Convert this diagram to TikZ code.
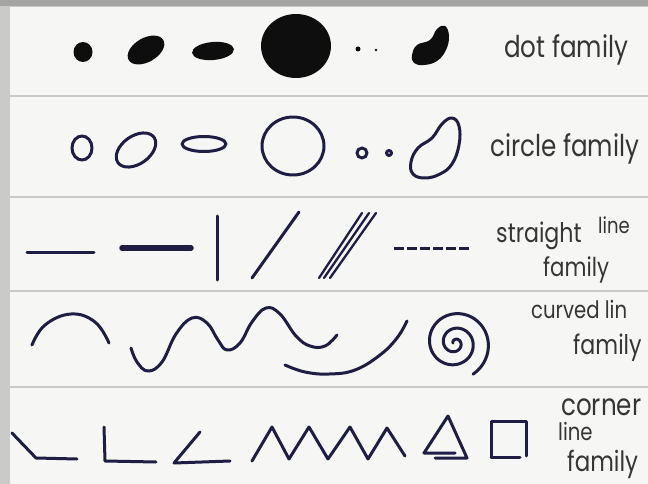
\documentclass[tikz,border=0pt]{standalone}
\usepackage{fontspec}
\newfontfamily\hand{Poppins}[FakeStretch=0.82]
\definecolor{inkc}{HTML}{1E1E44}
\definecolor{blackc}{HTML}{0E0E0E}
\definecolor{textc}{HTML}{353535}
\definecolor{paperc}{HTML}{F6F6F4}
\definecolor{framec}{HTML}{CACAC8}
\definecolor{topc}{HTML}{A4A4A2}
\begin{document}
\begin{tikzpicture}[x=1pt,y=-1pt,
  ink/.style={draw=inkc, line width=3pt, line cap=round, line join=round},
  blot/.style={fill=blackc},
  lab/.style={text=textc, anchor=base west, inner sep=0pt},
  strip/.style={fill=paperc, draw=none}]
\useasboundingbox (0,0) rectangle (648,484);
% background
\fill[framec] (0,0) rectangle (648,484);
\fill[topc] (0,0) rectangle (648,6);
\fill[strip] (10,7) rectangle (648,95);
\fill[strip] (10,97) rectangle (648,196);
\fill[strip] (10,198) rectangle (648,290);
\fill[strip] (10,292) rectangle (648,386);
\fill[strip] (10,388) rectangle (648,484);

% ---- dot family ----
\fill[blot] (83,52) ellipse [x radius=9.5, y radius=10];
\fill[blot, rotate around={30:(146,50)}] (146,50) ellipse [x radius=20, y radius=12];
\fill[blot, rotate around={5:(213,51)}] (213,51) ellipse [x radius=21, y radius=9];
\fill[blot] (296,46) ellipse [x radius=35, y radius=32];
\fill[blot] (358,49) circle [radius=2.5];
\fill[blot] (376,50) circle [radius=1.4];
\fill[blot] plot[smooth cycle, tension=0.7] coordinates {(412,55) (417,45) (430,40) (437,29) (445,26) (449,36) (446,50) (437,61) (424,65) (414,63)};
\node[lab, font=\hand\fontsize{30}{30}\selectfont] (t1) at (504,58) {dot family};

% ---- circle family ----
\draw[ink] (82,148) ellipse [x radius=10, y radius=12];
\draw[ink, rotate around={35:(136,150)}] (136,150) ellipse [x radius=22, y radius=14];
\draw[ink] (204,144) ellipse [x radius=22, y radius=7.5];
\draw[ink] (293,146) ellipse [x radius=31, y radius=29];
\draw[ink] (362,153) circle [radius=5];
\draw[ink] (389,153) circle [radius=2.5];
\draw[ink] plot[smooth cycle, tension=0.7] coordinates {(411,162) (418,148) (432,138) (442,124) (452,118) (459,126) (459,145) (452,164) (440,174) (425,178) (413,174)};
\node[lab, font=\hand\fontsize{30}{30}\selectfont] (t2) at (490,157) {circle family};

% ---- straight line family ----
\draw[ink] (27,252) -- (94,252);
\draw[ink, line width=5.5pt] (122,248) -- (191,248);
\draw[ink] (217,216) -- (217,280);
\draw[ink] (252,278) -- (299,212);
\draw[ink, line width=2.3pt] (319,278) -- (362,213);
\draw[ink, line width=2.3pt] (324,278) -- (369,213);
\draw[ink, line width=2.3pt] (330,278) -- (376,213);
\draw[ink, line cap=butt, dash pattern=on 10pt off 3pt] (394,248) -- (471,248);
\node[lab, font=\hand\fontsize{27}{27}\selectfont] (t3a) at (496,242) {straight};
\node[lab, font=\hand\fontsize{22}{22}\selectfont] (t3b) at (598,233) {line};
\node[lab, font=\hand\fontsize{26}{26}\selectfont] (t3c) at (543,276) {family};

% ---- curved line family ----
\draw[ink] plot[smooth, tension=0.7] coordinates {(32,345) (45,325) (71,314) (95,322) (109,343)};
\draw[ink] plot[smooth, tension=0.7] coordinates {(131,348) (137,362) (148,371) (162,362) (176,334) (192,318) (207,323) (218,340) (227,350) (240,343) (252,322) (266,308) (280,314) (296,336) (310,346) (325,346) (337,335)};
\draw[ink] plot[smooth, tension=0.7] coordinates {(285,365) (305,372) (329,374) (355,370) (380,355) (397,338) (407,321)};
\draw[ink] plot[domain=0:960, samples=240, smooth] ({455 + (2+34*(\x/960)^1.3)*cos(\x-900)}, {343 + (2+34*(\x/960)^1.3)*sin(\x-900)});
\node[lab, font=\hand\fontsize{24}{24}\selectfont] (t4a) at (531,318) {curved lin};
\node[lab, font=\hand\fontsize{27}{27}\selectfont] (t4b) at (573,354) {family};

% ---- corner line family ----
\draw[ink] (12,433) -- (36,458) -- (77,459);
\draw[ink] (104,427) -- (105,461) -- (156,462);
\draw[ink] (200,432) -- (174,463) -- (230,461);
\draw[ink] (252,461) -- (272,427) -- (289,459) -- (309,427) -- (328,459) -- (350,427) -- (368,459) -- (387,428) -- (405,456);
\draw[ink] (455,453) -- (424,453) -- (448,416) -- (467,458) -- (435,458);
\draw[ink] (491,457) -- (491,421) -- (526,421) -- (526,456);
\draw[ink] (491,457) -- (520,457);
\node[lab, font=\hand\fontsize{30}{30}\selectfont] (t5a) at (561,415) {corner};
\node[lab, font=\hand\fontsize{24}{24}\selectfont] (t5b) at (558,440) {line};
\node[lab, font=\hand\fontsize{28}{28}\selectfont] (t5c) at (567,471) {family};
\end{tikzpicture}
\end{document}
